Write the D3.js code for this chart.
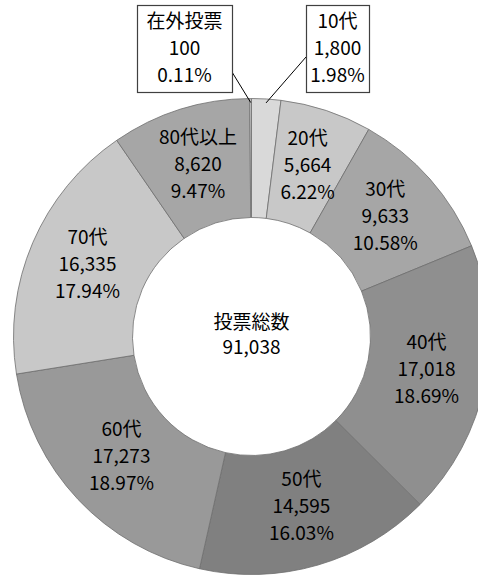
<!DOCTYPE html>
<html>
<head>
<meta charset="utf-8">
<script src="https://cdn.jsdelivr.net/npm/d3@7"></script>
<style>
  html, body { margin: 0; padding: 0; background: #fff; }
  svg { display: block; }
  text { font-family: "Noto Sans CJK JP", sans-serif; fill: #000; }
</style>
</head>
<body>
<svg id="chart" width="478" height="576"></svg>
<script>
// order clockwise from 12 o'clock
const labels = ["10代", "20代", "30代", "40代", "50代", "60代", "70代", "80代以上", "在外投票"];
const votes = [1800, 5664, 9633, 17018, 14595, 17273, 16335, 8620, 100];
const shares = ["1.98%", "6.22%", "10.58%", "18.69%", "16.03%", "18.97%", "17.94%", "9.47%", "0.11%"];
const fills = ["#d9d9d9", "#c8c8c8", "#a6a6a6", "#8f8f8f", "#808080", "#999999", "#c8c8c8", "#a6a6a6", "#d9d9d9"];
const centerTitle = "投票総数";
const total = 91038;

const CX = 251.5, CY = 336.5;
const R_OUT = 238, R_IN = 119;
const LINE = 27;
const FS = 19;

const fmt = d3.format(",");
const svg = d3.select("#chart");
const g = svg.append("g").attr("transform", `translate(${CX}, ${CY})`);

const data = labels.map((l, i) => ({ label: l, value: votes[i], share: shares[i], fill: fills[i] }));

const pie = d3.pie().value(d => d.value).sort(null);
const arc = d3.arc().innerRadius(R_IN).outerRadius(R_OUT);
const labelArc = d3.arc().innerRadius((R_IN + R_OUT) / 2).outerRadius((R_IN + R_OUT) / 2);

const arcs = pie(data);

g.selectAll(".slice")
  .data(arcs)
  .enter()
  .append("path")
  .attr("d", arc)
  .attr("fill", d => d.data.fill)
  .attr("stroke", "#6e6e6e")
  .attr("stroke-width", 0.8);

// labels inside the ring (the two thin slices get callout boxes)
const inner = arcs.filter(d => d.data.value > 5000);
g.selectAll(".lbl")
  .data(inner)
  .enter()
  .append("text")
  .attr("text-anchor", "middle")
  .attr("font-size", FS)
  .each(function(d) {
    const [x, y] = labelArc.centroid(d);
    const t = d3.select(this);
    const lines = [d.data.label, fmt(d.data.value), d.data.share];
    lines.forEach((s, i) => {
      t.append("tspan")
        .attr("x", x)
        .attr("y", y - 2 + (i - 1) * LINE)
        .attr("dy", "0.35em")
        .text(s);
    });
  });

// callouts
const callouts = [
  { idx: 8, box: [137, 5, 95, 87], anchor: [232, 72] },
  { idx: 0, box: [306, 5, 63, 87], anchor: [306, 57] }
];
callouts.forEach(c => {
  const d = arcs[c.idx];
  const mid = (d.startAngle + d.endAngle) / 2;
  const rp = R_OUT - 4;
  const px = CX + rp * Math.sin(mid), py = CY - rp * Math.cos(mid);
  svg.append("line")
    .attr("x1", c.anchor[0]).attr("y1", c.anchor[1])
    .attr("x2", px).attr("y2", py)
    .attr("stroke", "#000").attr("stroke-width", 1);
  const [bx, by, bw, bh] = c.box;
  svg.append("rect")
    .attr("x", bx + 0.5).attr("y", by + 0.5)
    .attr("width", bw).attr("height", bh)
    .attr("fill", "#fff").attr("stroke", "#404040").attr("stroke-width", 1.2);
  const t = svg.append("text").attr("text-anchor", "middle").attr("font-size", FS);
  [d.data.label, fmt(d.data.value), d.data.share].forEach((s, i) => {
    t.append("tspan")
      .attr("x", bx + bw / 2)
      .attr("y", by + bh / 2 + (i - 1) * LINE)
      .attr("dy", "0.35em")
      .text(s);
  });
});

// centre total
const ct = g.append("text").attr("text-anchor", "middle").attr("font-size", FS);
ct.append("tspan").attr("x", 0).attr("y", -14).attr("dy", "0.35em").text(centerTitle);
ct.append("tspan").attr("x", 0).attr("y", 11).attr("dy", "0.35em").text(fmt(total));
</script>
</body>
</html>
